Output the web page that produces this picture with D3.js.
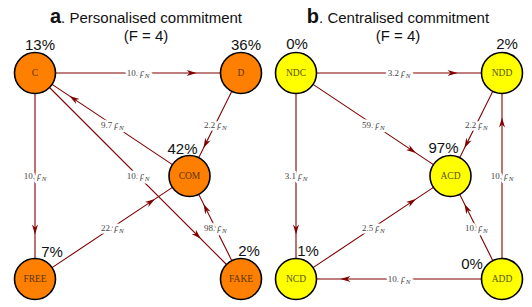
<!DOCTYPE html>
<html>
<head>
<meta charset="utf-8">
<script src="https://cdn.jsdelivr.net/npm/d3@7"></script>
<style>
  body { margin: 0; background: #fff; }
  svg { display: block; }
</style>
</head>
<body>
<script>
// panel a: personalised commitment
const nodesA = ["C", "D", "COM", "FREE", "FAKE"];
const shareA = [13, 36, 42, 7, 2];
const edgesA = [
  ["C", "D", "10."], ["C", "FREE", "10."], ["COM", "C", "9.7"], ["C", "FAKE", "10."],
  ["D", "COM", "2.2"], ["FREE", "COM", "22."], ["FAKE", "COM", "98."]
];
// panel b: centralised commitment
const nodesB = ["NDC", "NDD", "ACD", "NCD", "ADD"];
const shareB = [0, 2, 97, 1, 0];
const edgesB = [
  ["NDC", "NDD", "3.2"], ["NDC", "ACD", "59."], ["NDC", "NCD", "3.1"], ["NDD", "ACD", "2.2"],
  ["ADD", "NDD", "10."], ["ADD", "ACD", "10."], ["ADD", "NCD", "10."], ["NCD", "ACD", "2.5"]
];

// layout (grid coords, same for both panels) + percent label offsets
const grid = [[0, 1], [1, 1], [0.75, 0.5], [0, 0], [1, 0]];
const pctOffA = [[5, -23], [5, -23], [-7, -22], [17, -22], [8, -23]];
const pctOffB = [[1, -24], [5, -24], [-7, -23], [12, -23], [-30, -10]];

const W = 532, H = 307, R = 20.5;
const svg = d3.select("body").append("svg").attr("width", W).attr("height", H);

const y = d3.scaleLinear().domain([0, 1]).range([279, 73]);
const edgeCol = "#800000";

function panel(x0, titleX, letter, title, nodes, share, edges, fill, txtCol, pctOff) {
  const x = d3.scaleLinear().domain([0, 1]).range([x0, x0 + 206]);
  const pos = {};
  nodes.forEach((n, i) => pos[n] = [x(grid[i][0]), y(grid[i][1])]);
  const g = svg.append("g");

  const t = g.append("text").attr("x", titleX).attr("y", 23).attr("text-anchor", "middle")
    .attr("font-family", "Liberation Sans, Arial, sans-serif").attr("font-size", 15).attr("fill", "#111");
  t.append("tspan").attr("font-weight", "bold").attr("font-size", 20).text(letter);
  t.append("tspan").text(". " + title);
  g.append("text").attr("x", titleX).attr("y", 41).attr("text-anchor", "middle")
    .attr("font-family", "Liberation Sans, Arial, sans-serif").attr("font-size", 15).attr("fill", "#111")
    .text("(F = 4)");

  edges.forEach(e => {
    const [sx, sy] = pos[e[0]], [tx, ty] = pos[e[1]];
    const dx = tx - sx, dy = ty - sy, L = Math.hypot(dx, dy);
    const ux = dx / L, uy = dy / L;
    const ax = sx + ux * R, ay = sy + uy * R, bx = tx - ux * R, by = ty - uy * R;
    g.append("line").attr("x1", ax).attr("y1", ay).attr("x2", bx).attr("y2", by)
      .attr("stroke", edgeCol).attr("stroke-width", 1.1);
    // arrowhead
    const f = 0.855, len = L - 2 * R;
    const px = ax + ux * len * f, py = ay + uy * len * f;
    const al = 10, aw = 3;
    const bxp = px - ux * al, byp = py - uy * al;
    g.append("path")
      .attr("d", `M${px},${py}L${bxp - uy * aw},${byp + ux * aw}L${bxp + ux * 3},${byp + uy * 3}L${bxp + uy * aw},${byp - ux * aw}Z`)
      .attr("fill", edgeCol);
    // rate label
    const mx = (sx + tx) / 2, my = (sy + ty) / 2;
    const lt = g.append("text").attr("x", mx).attr("y", my + 3).attr("text-anchor", "middle")
      .attr("font-family", "Liberation Serif, DejaVu Serif, serif").attr("font-size", 9)
      .attr("fill", "#444").attr("stroke", "#fff").attr("stroke-width", 5)
      .attr("paint-order", "stroke").attr("stroke-linejoin", "round");
    lt.append("tspan").text(e[2] + " ");
    lt.append("tspan").attr("font-style", "italic").attr("font-size", 9.5).text("ρ");
    lt.append("tspan").attr("font-style", "italic").attr("font-size", 7).attr("dy", 2).text("N");
  });

  nodes.forEach((n, i) => {
    const [cx, cy] = pos[n];
    g.append("circle").attr("cx", cx).attr("cy", cy).attr("r", R)
      .attr("fill", fill).attr("stroke", "#000").attr("stroke-width", 1.6);
    g.append("text").attr("x", cx).attr("y", cy + 3.2).attr("text-anchor", "middle")
      .attr("font-family", "Liberation Serif, Times New Roman, serif").attr("font-size", 9.5)
      .attr("fill", txtCol).text(n);
    g.append("text").attr("x", cx + pctOff[i][0]).attr("y", cy + pctOff[i][1])
      .attr("text-anchor", "middle").attr("font-family", "Liberation Sans, Arial, sans-serif")
      .attr("font-size", 15).attr("fill", "#111").text(share[i] + "%");
  });
}

panel(35, 146, "a", "Personalised commitment", nodesA, shareA, edgesA, "#ff8000", "#5a3300", pctOffA);
panel(296, 398, "b", "Centralised commitment", nodesB, shareB, edgesB, "#ffff00", "#55550a", pctOffB);
</script>
</body>
</html>
